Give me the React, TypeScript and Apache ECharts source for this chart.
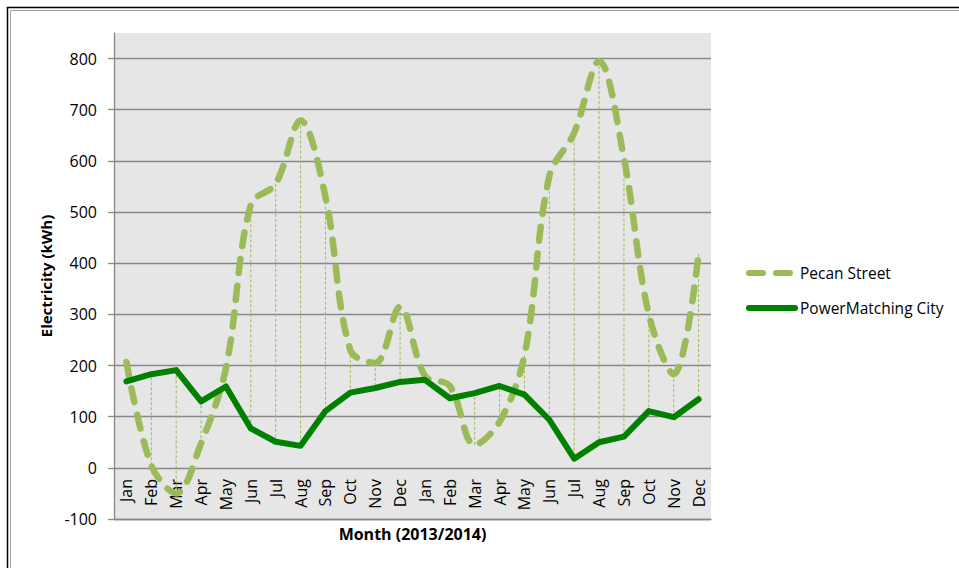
import React, { useEffect, useRef } from "react";
import * as echarts from "echarts";

const months = [
  "Jan", "Feb", "Mar", "Apr", "May", "Jun", "Jul", "Aug", "Sep", "Oct", "Nov", "Dec",
  "Jan", "Feb", "Mar", "Apr", "May", "Jun", "Jul", "Aug", "Sep", "Oct", "Nov", "Dec",
];
const pecanStreet = [
  207, 5, -50, 48, 195, 515, 555, 679, 530, 230, 205, 315,
  180, 160, 45, 90, 220, 570, 655, 795, 605, 300, 183, 418,
];
const powerMatchingCity = [
  169, 183, 191, 130, 159, 77, 51, 43, 111, 147, 156, 168,
  172, 136, 146, 160, 143, 94, 18, 50, 61, 111, 99, 134,
];
const yMin = -100;
const yMax = 850;
const yLastTick = 800;

const FONT = "'Open Sans', sans-serif";

export default function App() {
  const ref = useRef<HTMLDivElement>(null);
  useEffect(() => {
    if (!ref.current) return;
    const chart = echarts.init(ref.current, null, { renderer: "svg" });
    const dropData = months.map((_, i) => [i, pecanStreet[i], powerMatchingCity[i]]);
    chart.setOption({
      animation: false,
      backgroundColor: "#ffffff",
      textStyle: { fontFamily: FONT },
      graphic: [
        {
          type: "rect",
          shape: { x: 7.5, y: 7.5, width: 1000, height: 1000 },
          style: { fill: "none", stroke: "#000", lineWidth: 1.5 },
          silent: true,
        },
        {
          type: "rect",
          shape: { x: 10.5, y: 10.5, width: 1000, height: 1000 },
          style: { fill: "none", stroke: "#a0a0a0", lineWidth: 1 },
          silent: true,
        },
      ],
      grid: {
        left: 114,
        right: 248,
        top: 33,
        bottom: 49,
        show: true,
        backgroundColor: "#e6e6e6",
        borderWidth: 0,
        containLabel: false,
        outerBoundsMode: "none",
      },
      legend: {
        orient: "vertical",
        left: 741,
        top: 260,
        itemWidth: 46,
        itemHeight: 10,
        itemGap: 19,
        data: ["Pecan Street", "PowerMatching City"],
        itemStyle: { opacity: 0 },
        lineStyle: { width: 6, cap: "round" },
        textStyle: { fontFamily: FONT, fontSize: 15.5, color: "#000" },
      },
      xAxis: {
        type: "category",
        data: months,
        boundaryGap: true,
        axisLine: { show: true, onZero: false, lineStyle: { color: "#888", width: 1.3 } },
        axisTick: { show: false },
        axisLabel: {
          rotate: 90,
          interval: 0,
          margin: -40,
          fontFamily: FONT,
          fontSize: 16,
          color: "#000",
        },
        name: "Month (2013/2014)",
        nameLocation: "middle",
        nameGap: 7,
        nameTextStyle: {
          fontFamily: FONT,
          fontSize: 16,
          fontWeight: "bold",
          color: "#000",
          verticalAlign: "top",
        },
        splitLine: { show: false },
      },
      yAxis: {
        type: "value",
        min: yMin,
        max: yMax,
        interval: 100,
        axisLine: { show: true, lineStyle: { color: "#888", width: 1.3 } },
        axisTick: {
          show: true,
          length: 6,
          lineStyle: { color: "#888", width: 1.3 },
        },
        axisLabel: {
          margin: 17,
          showMaxLabel: false,
          formatter: (v: number) => (v > yLastTick ? "" : String(v)),
          fontFamily: FONT,
          fontSize: 16,
          color: "#000",
        },
        splitLine: {
          show: true,
          showMaxLine: false,
          lineStyle: { color: "#888", width: 1.3 },
        },
        name: "Electricity (kWh)",
        nameLocation: "middle",
        nameRotate: 90,
        nameGap: 58,
        nameTextStyle: { fontFamily: FONT, fontSize: 15, fontWeight: "bold", color: "#000" },
      },
      series: [
        {
          type: "custom",
          name: "drop",
          z: 1,
          silent: true,
          data: dropData,
          encode: { x: 0, y: [1, 2] },
          renderItem: (params: any, api: any) => {
            const p1 = api.coord([api.value(0), api.value(1)]);
            const p2 = api.coord([api.value(0), api.value(2)]);
            return {
              type: "line",
              shape: { x1: p1[0], y1: p1[1], x2: p2[0], y2: p2[1] },
              style: { stroke: "#9bbb59", lineWidth: 1, lineDash: [3, 2] },
            };
          },
        },
        {
          type: "line",
          name: "Pecan Street",
          z: 2,
          data: pecanStreet,
          smooth: 0.35,
          symbol: "none",
          lineStyle: {
            color: "#9bbb59",
            width: 6.5,
            type: [14, 13],
            cap: "round",
          },
          itemStyle: { color: "#9bbb59" },
        },
        {
          type: "line",
          name: "PowerMatching City",
          z: 3,
          data: powerMatchingCity,
          smooth: false,
          symbol: "none",
          lineStyle: { color: "#008000", width: 6, cap: "round", join: "round" },
          itemStyle: { color: "#008000" },
        },
      ],
    });
    return () => chart.dispose();
  }, []);
  return (
    <div
      ref={ref}
      style={{ position: "fixed", left: 0, top: 0, width: 959, height: 568 }}
    />
  );
}
